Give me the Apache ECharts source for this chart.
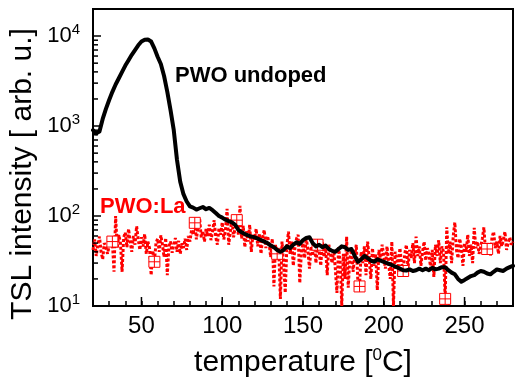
<!DOCTYPE html>
<html>
<head>
<meta charset="utf-8">
<script src="https://cdn.jsdelivr.net/npm/echarts@6/dist/echarts.min.js"></script>
<style>
  html, body { margin: 0; padding: 0; background: #fff; }
  #chart { width: 516px; height: 383px; }
</style>
</head>
<body>
<div id="chart"></div>
<script>
// Temperature range of the glow curves (°C)
const tempMin = 20;
const tempMax = 280;

// Undoped PWO: sampled every 2 °C starting at 20 °C
const undopedStart = 20;
const undopedStep = 2;
const undopedValues = [
  900, 830, 870, 1200, 1550, 1950, 2400, 2900, 3400, 4000,
  4700, 5400, 6200, 7000, 7900, 8700, 9100, 9150, 8700, 7300,
  5900, 4900, 3600, 2400, 1500, 900, 420, 240, 175, 145,
  128, 124, 118, 122, 126, 119, 123, 116, 108, 100,
  96, 91, 88, 85, 80, 70, 66, 63, 61, 59,
  58, 56, 54, 52, 50, 47, 45, 42, 40, 42,
  46, 44, 48, 51, 49, 54, 57, 58, 50, 46,
  48, 45, 47, 43, 41, 40, 43, 46, 45, 42,
  43, 36, 31, 33, 36, 34, 32, 31, 33, 32,
  31, 30, 29, 28, 27, 26, 25, 24.8, 25.5, 24.5,
  25, 26, 25, 26, 25, 26.5, 25.5, 26, 27, 27,
  25, 23.5, 22.5, 20, 18.6, 19.5, 20.5, 21.5, 22, 23.5,
  24.5, 24, 23, 22.5, 24, 25.5, 25, 24.5, 26, 27,
  28
];

// La-doped PWO: sampled every 1 °C starting at 20 °C
const laStart = 20;
const laStep = 1;
const laValues = [
  42, 55, 36, 48, 59, 40, 33, 50, 45, 38,
  47, 56, 52, 24, 100, 44, 62, 50, 24, 58,
  66, 45, 72, 52, 40, 60, 48, 77, 55, 42,
  58, 46, 63, 38, 52, 44, 22, 41, 31, 50,
  56, 40, 61, 48, 35, 57, 22, 46, 52, 39,
  48, 57, 40, 53, 38, 50, 44, 56, 42, 60,
  52, 70, 62, 84, 55, 75, 95, 58, 68, 52,
  72, 60, 80, 54, 66, 90, 58, 48, 74, 62,
  85, 55, 70, 120, 48, 66, 92, 58, 75, 90,
  62, 130, 56, 78, 45, 68, 52, 80, 40, 62,
  55, 72, 46, 64, 38, 58, 70, 44, 60, 50,
  35, 56, 16.5, 48, 38, 42, 12, 52, 30, 14,
  46, 67, 38, 52, 28, 44, 56, 62, 18, 40,
  50, 34, 58, 42, 26, 46, 36, 55, 30, 48,
  40, 28, 52, 35, 44, 22, 48, 38, 30, 42,
  26, 14, 45, 32, 10, 38, 20, 59, 16, 34,
  42, 24, 36, 48, 18, 16.5, 40, 30, 46, 22,
  52, 34, 20, 44, 28, 38, 15, 42, 32, 48,
  36, 26, 46, 30, 20, 52, 10, 40, 34, 28,
  44, 30, 24.5, 38, 48, 26, 42, 34, 50, 30,
  59, 36, 46, 28, 40, 52, 32, 44, 38, 26,
  42, 21, 48, 36, 54, 30, 46, 40, 12, 75,
  38, 52, 30, 60, 85, 42, 34, 56, 45, 28,
  50, 40, 62, 36, 48, 30, 74, 44, 52, 38,
  46, 56, 75, 40, 43, 50, 36, 58, 67, 44,
  52, 38, 60, 46, 54, 67, 42, 50, 58, 48,
  52
];
// Points of the La-doped curve carrying a marker
const laMarkedTemps = [32, 58, 83, 109, 134, 159, 185, 212, 238, 264];

// Axis ticks
const xTickLabels = [50, 100, 150, 200, 250];
const yTickExponents = [1, 2, 3, 4];
const yMin = 10;
const yMax = 20000;

const FONT = '"Liberation Sans", Arial, Helvetica, sans-serif';

const undopedData = undopedValues.map((v, i) => [undopedStart + i * undopedStep, v]);
const laData = laValues.map((v, i) => [laStart + i * laStep, v]);

// minor log ticks: 2..9 in every decade below the top
const yMinorTicks = [];
yTickExponents.slice(0, -1).forEach(e => {
  for (let m = 2; m <= 9; m++) yMinorTicks.push(m * Math.pow(10, e));
});

const crossSquare = 'path://M0,0H10V10H0Z M5,0V10 M0,5H10';

function tickRenderer(dx, dy) {
  return function (params, api) {
    const p = api.coord([api.value(0), api.value(1)]);
    return {
      type: 'line',
      shape: { x1: p[0], y1: p[1], x2: p[0] + dx, y2: p[1] + dy },
      style: { stroke: '#000', lineWidth: 1.5 }
    };
  };
}

const chart = echarts.init(document.getElementById('chart'), null, { renderer: 'canvas' });

chart.setOption({
  animation: false,
  backgroundColor: '#fff',
  grid: {
    left: 93, right: 1, top: 9, bottom: 70,
    show: true, borderColor: '#000', borderWidth: 2
  },
  xAxis: {
    type: 'value',
    min: tempMin,
    max: tempMax,
    interval: 10,
    axisLine: { lineStyle: { color: '#000', width: 2 } },
    axisTick: { inside: true, length: 5, lineStyle: { color: '#000', width: 1.5 } },
    splitLine: { show: false },
    axisLabel: {
      color: '#000', fontFamily: FONT, fontSize: 24, margin: 8,
      formatter: v => (xTickLabels.includes(v) ? String(v) : '')
    },
    name: '{a|temperature [}{s|0}{a|C]}',
    nameLocation: 'middle',
    nameGap: 41,
    nameTextStyle: {
      rich: {
        a: { fontFamily: FONT, fontSize: 30, color: '#000', lineHeight: 32 },
        s: { fontFamily: FONT, fontSize: 17, color: '#000', verticalAlign: 'top', lineHeight: 18 }
      }
    }
  },
  yAxis: {
    type: 'log',
    logBase: 10,
    min: yMin,
    max: yMax,
    axisLine: { lineStyle: { color: '#000', width: 2 } },
    axisTick: { inside: true, length: 8, lineStyle: { color: '#000', width: 1.5 } },
    splitLine: { show: false },
    axisLabel: {
      margin: 13,
      formatter: v => {
        const e = Math.round(Math.log10(v));
        if (Math.abs(Math.log10(v) - e) > 1e-6 || !yTickExponents.includes(e)) return '';
        return '{b|10}{s|' + e + '}';
      },
      rich: {
        b: { fontFamily: FONT, fontSize: 22, color: '#000', lineHeight: 28 },
        s: { fontFamily: FONT, fontSize: 15, color: '#000', verticalAlign: 'top', lineHeight: 15 }
      }
    }
  },
  graphic: [
    {
      type: 'text', x: 23, y: 174, rotation: Math.PI / 2,
      style: {
        text: 'TSL intensity [ arb. u.]', font: '30px ' + FONT, fill: '#000',
        align: 'center', verticalAlign: 'middle'
      }
    },
    {
      type: 'text', x: 175, y: 76, z: 10,
      style: { text: 'PWO undoped', font: 'bold 22px ' + FONT, fill: '#000', verticalAlign: 'middle' }
    },
    {
      type: 'text', x: 100, y: 207, z: 10,
      style: { text: 'PWO:La', font: 'bold 22px ' + FONT, fill: '#ff0000', verticalAlign: 'middle' }
    }
  ],
  series: [
    {
      name: 'PWO:La',
      type: 'line',
      data: laData,
      showAllSymbol: true,
      symbol: val => (laMarkedTemps.includes(val[0]) ? crossSquare : 'none'),
      symbolSize: 11,
      itemStyle: { color: '#fff', borderColor: '#ff0000', borderWidth: 1 },
      lineStyle: { color: '#ff0000', width: 3, type: [3, 2] },
      z: 2
    },
    {
      name: 'PWO undoped',
      type: 'line',
      data: undopedData,
      showSymbol: false,
      lineStyle: { color: '#000', width: 4, join: 'round', cap: 'round' },
      z: 3
    },
    {
      type: 'custom', silent: true, clip: false, z: 6,
      data: yMinorTicks.map(v => [tempMin, v]),
      renderItem: tickRenderer(5, 0)
    },
    {
      type: 'custom', silent: true, clip: false, z: 6,
      data: xTickLabels.map(t => [t, yMin]),
      renderItem: tickRenderer(0, -9)
    }
  ]
});
</script>
</body>
</html>
